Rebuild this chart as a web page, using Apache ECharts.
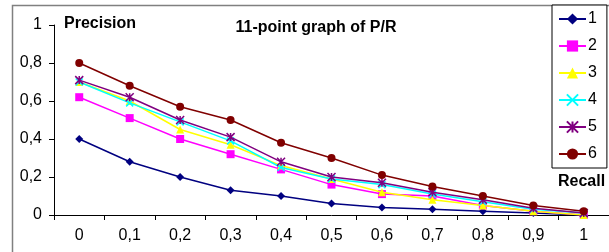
<!DOCTYPE html>
<html>
<head>
<meta charset="UTF-8">
<title>11-point graph of P/R</title>
<script src="https://cdn.jsdelivr.net/npm/echarts@6/dist/echarts.min.js"></script>
<style>
  html, body { margin: 0; padding: 0; background: #fff; }
  #chart { width: 609px; height: 252px; }
</style>
</head>
<body>
<div id="chart"></div>
<script>
// recall levels (x axis)
var recall = ['0', '0,1', '0,2', '0,3', '0,4', '0,5', '0,6', '0,7', '0,8', '0,9', '1'];

// precision per run
var p1 = [0.40, 0.28, 0.20, 0.13, 0.10, 0.06, 0.04, 0.03, 0.02, 0.01, 0.00];
var p2 = [0.62, 0.51, 0.40, 0.32, 0.24, 0.16, 0.11, 0.10, 0.05, 0.02, 0.00];
var p3 = [0.70, 0.60, 0.45, 0.37, 0.26, 0.19, 0.12, 0.08, 0.05, 0.02, 0.00];
var p4 = [0.70, 0.59, 0.49, 0.39, 0.25, 0.19, 0.16, 0.11, 0.07, 0.03, 0.01];
var p5 = [0.71, 0.62, 0.50, 0.41, 0.28, 0.20, 0.17, 0.12, 0.08, 0.035, 0.01];
var p6 = [0.80, 0.68, 0.57, 0.50, 0.38, 0.30, 0.21, 0.15, 0.10, 0.05, 0.02];

var names = ['1', '2', '3', '4', '5', '6'];
var values = [p1, p2, p3, p4, p5, p6];
var colors = ['#000080', '#ff00ff', '#ffff00', '#00ffff', '#800080', '#800000'];
var symbols = [
  'diamond',
  'rect',
  'triangle',
  'path://M0,0L10,10M10,0L0,10',
  'path://M0,0L10,10M10,0L0,10M5,0L5,10',
  'circle'
];
var sizes = [8, 8, 8, 7, 8, 8];

var font = 'Liberation Sans, Arial, sans-serif';

var series = names.map(function (n, i) {
  var stroked = i === 3 || i === 4;
  return {
    name: n,
    type: 'line',
    data: values[i],
    symbol: symbols[i],
    symbolSize: sizes[i],
    showSymbol: true,
    lineStyle: { color: colors[i], width: 1.5 },
    itemStyle: {
      color: colors[i],
      borderColor: colors[i],
      borderWidth: stroked ? 1.5 : 0
    },
    emphasis: { disabled: true },
    z: 2 + i
  };
});

var myChart = echarts.init(document.getElementById('chart'));
myChart.setOption({
  backgroundColor: '#fff',
  animation: false,
  graphic: [{
    type: 'rect',
    z: -10,
    shape: { x: 12.5, y: 5.5, width: 700, height: 400 },
    style: { fill: 'none', stroke: '#808080', lineWidth: 1.5 }
  }],
  title: [
    { text: '11-point graph of P/R', left: 311, top: 15, textAlign: 'center',
      textStyle: { fontFamily: font, fontSize: 16, fontWeight: 'bold', color: '#000' } },
    { text: 'Precision', left: 59, top: 11,
      textStyle: { fontFamily: font, fontSize: 16, fontWeight: 'bold', color: '#000' } },
    { text: 'Recall', left: 553, top: 169,
      textStyle: { fontFamily: font, fontSize: 16, fontWeight: 'bold', color: '#000' } }
  ],
  legend: {
    orient: 'vertical',
    left: 552,
    top: 5,
    padding: [6, 10, 6, 6],
    itemWidth: 27,
    itemHeight: 14,
    itemGap: 11,
    backgroundColor: '#fff',
    borderColor: '#000',
    borderWidth: 1,
    textStyle: { fontFamily: font, fontSize: 16, color: '#000', padding: [0, 0, 0, -3] },
    data: names
  },
  grid: { left: 54, right: 0, top: 25, bottom: 37, containLabel: false },
  xAxis: {
    type: 'category',
    data: recall,
    boundaryGap: true,
    axisLine: { lineStyle: { color: '#000', width: 1 } },
    axisTick: { show: true, length: 5, lineStyle: { color: '#000' } },
    axisLabel: { fontFamily: font, fontSize: 16, color: '#000', margin: 13 },
    splitLine: { show: false }
  },
  yAxis: {
    type: 'value',
    min: 0,
    max: 1,
    interval: 0.2,
    axisLine: { show: true, lineStyle: { color: '#000', width: 1 } },
    axisTick: { show: true, length: 5, lineStyle: { color: '#000' } },
    axisLabel: {
      fontFamily: font, fontSize: 16, color: '#000', margin: 12,
      formatter: function (v) { return String(Math.round(v * 10) / 10).replace('.', ','); }
    },
    splitLine: { show: false }
  },
  tooltip: { show: false },
  series: series
});
</script>
</body>
</html>
